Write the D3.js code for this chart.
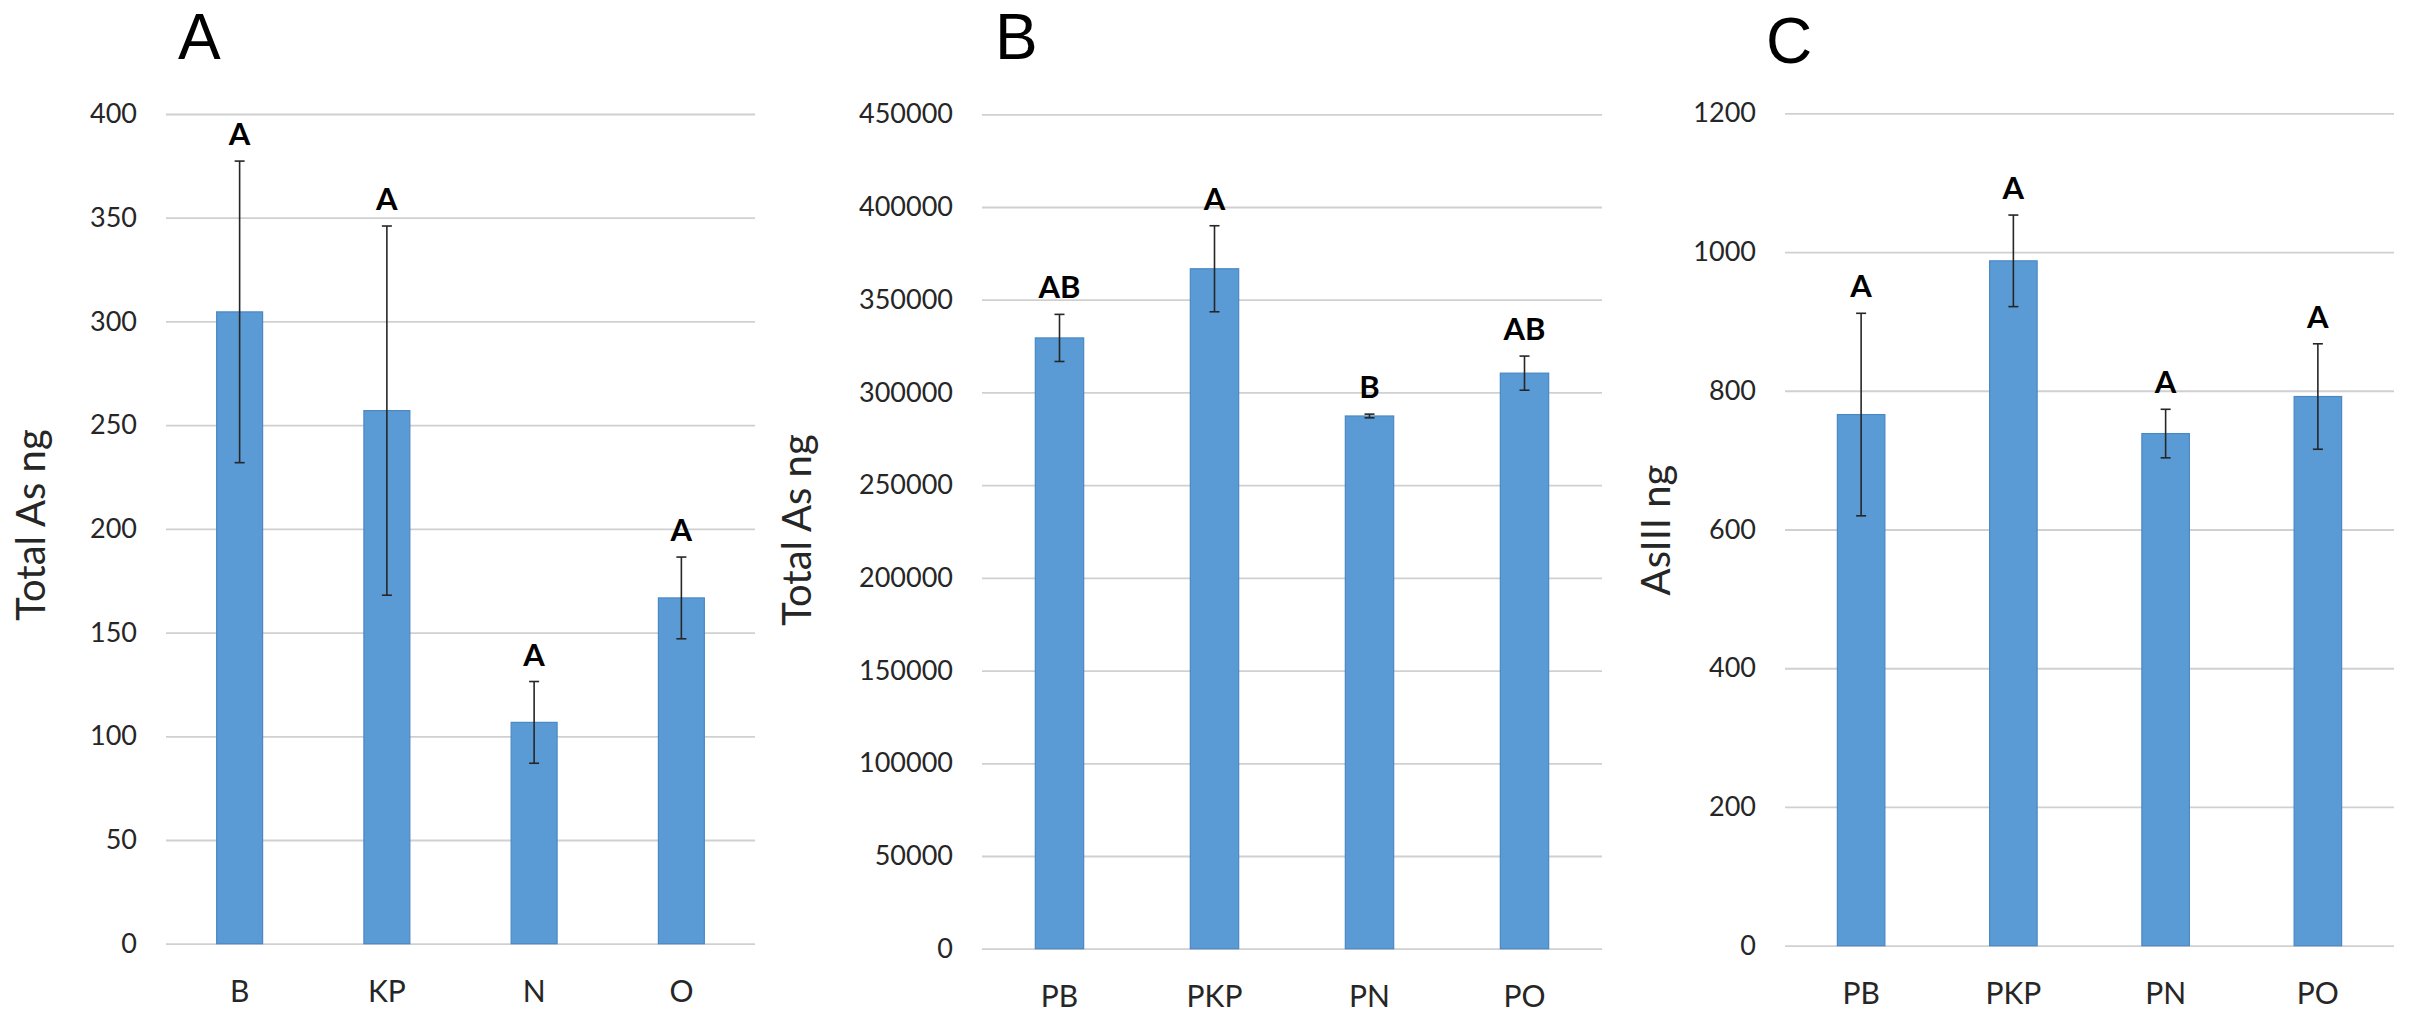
<!DOCTYPE html>
<html>
<head>
<meta charset="utf-8">
<script src="https://cdn.jsdelivr.net/npm/d3@7/dist/d3.min.js"></script>
<style>
  html, body { margin: 0; padding: 0; background: #ffffff; }
  svg { display: block; }
  text { font-family: Lato, "Open Sans", "Noto Sans", sans-serif; }
</style>
</head>
<body>
<svg id="chart" width="2410" height="1015"></svg>
<script>
// ---- Panel A: total As per treatment ----
const categoriesA = ["B", "KP", "N", "O"];
const valuesA = [304.6, 257, 106.7, 166.7];
const errorsA = [72.7, 89, 19.7, 19.7];
const groupsA = ["A", "A", "A", "A"];
const ticksA = [0, 50, 100, 150, 200, 250, 300, 350, 400];

// ---- Panel B: total As per treatment (P series) ----
const categoriesB = ["PB", "PKP", "PN", "PO"];
const valuesB = [329400, 366700, 287300, 310400];
const errorsB = [12700, 23200, 1000, 9200];
const groupsB = ["AB", "A", "B", "AB"];
const ticksB = [0, 50000, 100000, 150000, 200000, 250000, 300000, 350000, 400000, 450000];

// ---- Panel C: AsIII per treatment ----
const categoriesC = ["PB", "PKP", "PN", "PO"];
const valuesC = [765.7, 987.3, 738.3, 791.7];
const errorsC = [146, 66, 35, 76];
const groupsC = ["A", "A", "A", "A"];
const ticksC = [0, 200, 400, 600, 800, 1000, 1200];

const panelLetters = ["A", "B", "C"];
const axisTitles = ["Total As ng", "Total As ng", "AsIII ng"];

// layout of each panel (plot box, title and panel letter placement)
const panels = [
  { cats: categoriesA, vals: valuesA, errs: errorsA, groups: groupsA, ticks: ticksA,
    x0: 166, x1: 755, yTop: 114, yBot: 943.7, max: 400,
    letterX: 178, letterY: 59, titleX: 45, titleY: 525 },
  { cats: categoriesB, vals: valuesB, errs: errorsB, groups: groupsB, ticks: ticksB,
    x0: 982, x1: 1602, yTop: 114.3, yBot: 948.7, max: 450000,
    letterX: 995, letterY: 59, titleX: 811, titleY: 530 },
  { cats: categoriesC, vals: valuesC, errs: errorsC, groups: groupsC, ticks: ticksC,
    x0: 1785, x1: 2394, yTop: 113.3, yBot: 945.7, max: 1200,
    letterX: 1766, letterY: 63, titleX: 1670, titleY: 530 }
];

const svg = d3.select("#chart");
svg.append("rect").attr("width", 2410).attr("height", 1015).attr("fill", "#ffffff");

panels.forEach((p, i) => {
  const g = svg.append("g");

  const x = d3.scaleBand()
    .domain(p.cats)
    .range([p.x0, p.x1])
    .paddingInner(0.688)
    .paddingOuter(0.344);

  const y = d3.scaleLinear()
    .domain([0, p.max])
    .range([p.yBot, p.yTop]);

  // y axis with horizontal gridlines
  const yAxis = g.append("g")
    .attr("transform", `translate(${p.x0},0)`)
    .call(d3.axisLeft(y)
      .tickValues(p.ticks)
      .tickFormat(d3.format("d"))
      .tickSize(-(p.x1 - p.x0))
      .tickPadding(29));
  yAxis.select(".domain").remove();
  yAxis.selectAll(".tick line").attr("stroke", "#d0d0d0").attr("stroke-width", 1.8);
  yAxis.selectAll(".tick text")
    .attr("font-size", 27)
    .attr("fill", "#262626")
    .style("font-family", "Lato, 'Open Sans', sans-serif");

  // category axis
  const xAxis = g.append("g")
    .attr("transform", `translate(0,${p.yBot})`)
    .call(d3.axisBottom(x).tickSize(0).tickPadding(37));
  xAxis.select(".domain").remove();
  xAxis.selectAll(".tick text")
    .attr("font-size", 30)
    .attr("fill", "#262626")
    .style("font-family", "Lato, 'Open Sans', sans-serif");

  const rows = p.cats.map((c, k) => ({ c, v: p.vals[k], e: p.errs[k], grp: p.groups[k] }));

  // bars
  g.selectAll("rect.bar").data(rows).enter().append("rect")
    .attr("class", "bar")
    .attr("x", d => x(d.c))
    .attr("width", x.bandwidth())
    .attr("y", d => y(d.v))
    .attr("height", d => y(0) - y(d.v))
    .attr("fill", "#5b9bd5")
    .attr("stroke", "#4a88c4")
    .attr("stroke-width", 1.2);

  // error bars
  const capHalf = 5;
  const eb = g.selectAll("g.err").data(rows).enter().append("g").attr("class", "err")
    .attr("stroke", "#262626").attr("stroke-width", 1.6);
  eb.append("line")
    .attr("x1", d => x(d.c) + x.bandwidth() / 2)
    .attr("x2", d => x(d.c) + x.bandwidth() / 2)
    .attr("y1", d => y(d.v + d.e))
    .attr("y2", d => y(d.v - d.e));
  eb.append("line")
    .attr("x1", d => x(d.c) + x.bandwidth() / 2 - capHalf)
    .attr("x2", d => x(d.c) + x.bandwidth() / 2 + capHalf)
    .attr("y1", d => y(d.v + d.e))
    .attr("y2", d => y(d.v + d.e));
  eb.append("line")
    .attr("x1", d => x(d.c) + x.bandwidth() / 2 - capHalf)
    .attr("x2", d => x(d.c) + x.bandwidth() / 2 + capHalf)
    .attr("y1", d => y(d.v - d.e))
    .attr("y2", d => y(d.v - d.e));

  // significance group letters above each error bar
  g.selectAll("text.grp").data(rows).enter().append("text")
    .attr("class", "grp")
    .attr("x", d => x(d.c) + x.bandwidth() / 2)
    .attr("y", d => y(d.v + d.e) - 16)
    .attr("text-anchor", "middle")
    .attr("font-size", 31)
    .attr("font-weight", "bold")
    .attr("fill", "#000000")
    .text(d => d.grp);

  // rotated y-axis title
  g.append("text")
    .attr("transform", `translate(${p.titleX},${p.titleY}) rotate(-90)`)
    .attr("text-anchor", "middle")
    .attr("font-size", 40)
    .attr("fill", "#262626")
    .text(axisTitles[i]);

  // panel letter
  g.append("text")
    .attr("x", p.letterX)
    .attr("y", p.letterY)
    .attr("font-size", 64)
    .attr("fill", "#000000")
    .style("font-family", "'Liberation Sans', Arial, sans-serif")
    .text(panelLetters[i]);
});
</script>
</body>
</html>
